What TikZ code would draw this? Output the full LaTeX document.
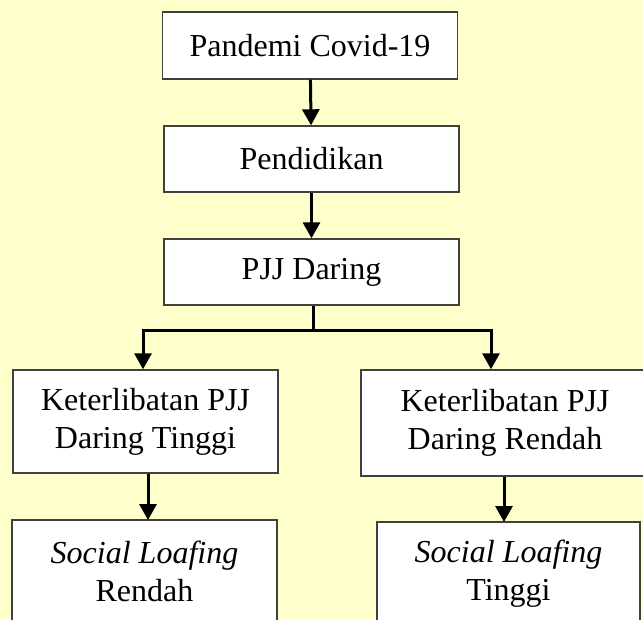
\documentclass[tikz,border=0pt]{standalone}
\usepackage{fontspec}
\setmainfont{Liberation Serif}
\usetikzlibrary{arrows.meta,positioning}

\definecolor{latar}{RGB}{255,255,204}
\definecolor{garis}{RGB}{64,64,64}

\tikzset{
    kotak/.style={draw=garis, fill=white, line width=1.4pt, align=center, inner sep=0pt,
        font=\fontsize{32}{38}\selectfont},
    panah/.style={line width=3pt, -{Triangle[length=16pt,width=17pt]}}
}

\begin{document}
\begin{tikzpicture}[x=1pt, y=-1pt]
\fill[latar] (0,0) rectangle (643,619);
\clip (0,0) rectangle (643,619);
% alur utama
\node[kotak, minimum width=295pt, minimum height=67pt] (covid) at (310,45.5) {Pandemi Covid-19};
\node[kotak, minimum width=295pt, minimum height=66pt] (didik) at (311.5,159) {Pendidikan};
\node[kotak, minimum width=295pt, minimum height=66pt] (daring) at (311.5,272) {PJJ Daring};
\draw[panah] (covid) -- (didik);
\draw[panah] (didik) -- (daring);
% cabang
\node[kotak, minimum width=265pt, minimum height=103pt] (tinggi) at (145.5,421.5) {Keterlibatan PJJ\\Daring Tinggi};
\node[kotak, minimum width=288pt, minimum height=106pt] (rendah) at (505,423) {Keterlibatan PJJ\\Daring Rendah};
\coordinate (kiri) at (143,330);
\coordinate (kanan) at (491,330);
\draw[line width=3pt] (daring.south -| 313,0) -- (313,330);
\draw[line width=3pt, line cap=rect] (kiri) -- (kanan);
\draw[panah] (kiri) -- (kiri |- tinggi.north);
\draw[panah] (kanan) -- (kanan |- rendah.north);
% hasil
\node[kotak, minimum width=265pt, minimum height=103pt] (slrendah) at (144.5,571.5) {\textit{Social Loafing}\\Rendah};
\node[kotak, minimum width=263pt, minimum height=103pt] (sltinggi) at (508.5,573.5) {\textit{Social Loafing}\\Tinggi};
\draw[panah] (tinggi.south -| 148,0) -- (148,520);
\draw[panah] (rendah.south -| 504,0) -- (504,522);
\end{tikzpicture}
\end{document}
